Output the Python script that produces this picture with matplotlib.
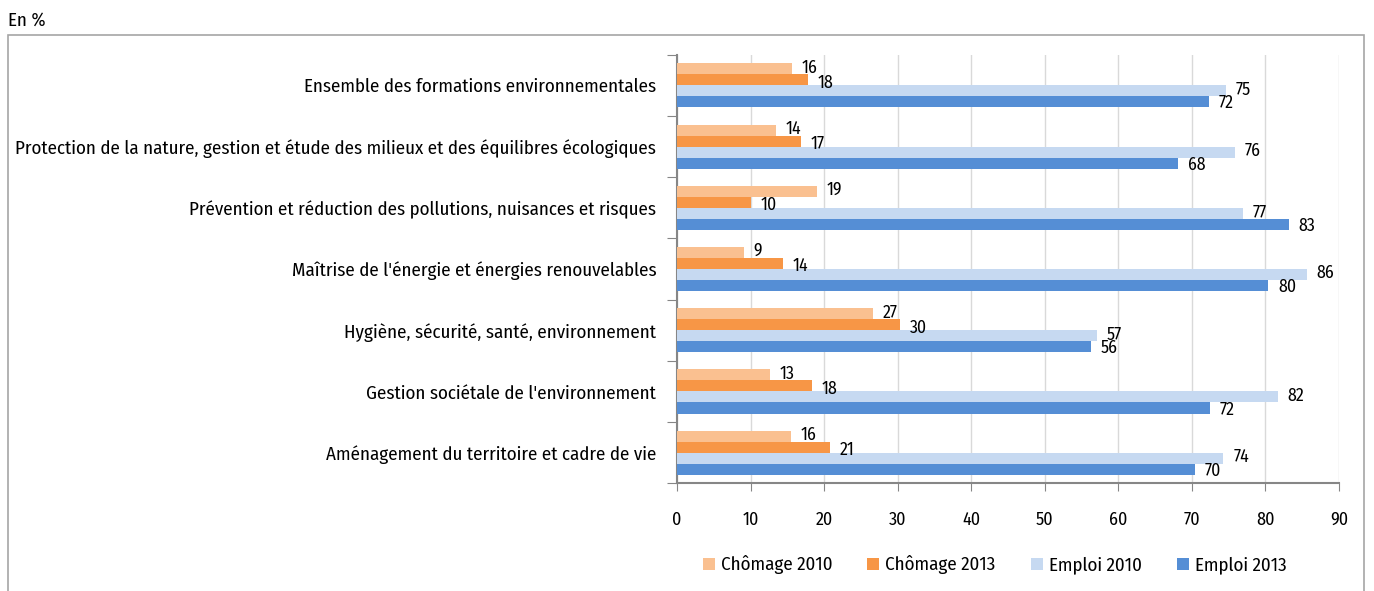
import matplotlib
matplotlib.use("Agg")
import matplotlib.pyplot as plt
import numpy as np
from matplotlib.patches import Rectangle
from matplotlib import font_manager

# police semi-étroite si disponible || semi-condensed font if available
names = {f.name for f in font_manager.fontManager.ttflist}
prefs = ['Fira Sans Condensed', 'Open Sans Condensed', 'Encode Sans Semi Condensed',
         'PT Sans Narrow', 'Asap Condensed', 'Roboto Condensed', 'Liberation Sans Narrow']
fam = next((p for p in prefs if p in names), 'DejaVu Sans')
plt.rcParams['font.family'] = [fam, 'DejaVu Sans']

# données || data
categories = [
    "Ensemble des formations environnementales",
    "Protection de la nature, gestion et étude des milieux et des équilibres écologiques",
    "Prévention et réduction des pollutions, nuisances et risques",
    "Maîtrise de l'énergie et énergies renouvelables",
    "Hygiène, sécurité, santé, environnement",
    "Gestion sociétale de l'environnement",
    "Aménagement du territoire et cadre de vie",
]
chomage_2010 = [15.6, 13.5, 19.0, 9.1, 26.6, 12.6, 15.5]
chomage_2013 = [17.8, 16.8, 10.1, 14.4, 30.3, 18.3, 20.8]
emploi_2010 = [74.6, 75.8, 76.9, 85.6, 57.1, 81.7, 74.3]
emploi_2013 = [72.3, 68.1, 83.2, 80.4, 56.3, 72.4, 70.4]

series = [
    ("Chômage 2010", chomage_2010, "#FAC090"),
    ("Chômage 2013", chomage_2013, "#F79646"),
    ("Emploi 2010", emploi_2010, "#C6D9F1"),
    ("Emploi 2013", emploi_2013, "#558ED5"),
]

fig = plt.figure(figsize=(13.74, 5.91), dpi=100)

# taille calibrée sur la largeur du libellé le plus long (~645 px)
probe = fig.text(0, 0, categories[1], fontsize=12)
w = probe.get_window_extent(renderer=fig.canvas.get_renderer()).width
probe.remove()
fs = 12 * 645 / w

ax = fig.add_axes([0.4927, 0.1822, 0.4818, 0.7252])

n = len(categories)
y = np.arange(n)
h = 0.18
offsets = [-1.5 * h, -0.5 * h, 0.5 * h, 1.5 * h]
label_dy = [1, -2, 1, -1]
for (lab, vals, col), off, dy in zip(series, offsets, label_dy):
    bars = ax.barh(y + off, vals, height=h, color=col, label=lab, zorder=3)
    for b, v in zip(bars, vals):
        ax.annotate(f"{round(v):d}", (v, b.get_y() + b.get_height() / 2),
                    xytext=(7, dy), textcoords="offset points", zorder=6,
                    va="center", ha="left", fontsize=fs * 0.93, color="#000000")

ax.set_xlim(0, 90)
ax.set_ylim(n - 0.5, -0.5)
ax.set_xticks(np.arange(0, 91, 10))
ax.set_yticks(np.arange(-0.5, n, 1), minor=False)
ax.set_yticklabels([])
ax.set_yticks(y, minor=True)
ax.set_yticklabels(categories, minor=True, fontsize=fs)
ax.tick_params(axis='y', which='minor', length=0, pad=15)
ax.tick_params(axis='y', which='major', length=7, color="#868686", direction='out')
ax.tick_params(axis='x', length=6, color="#868686", labelsize=fs * 0.95, pad=14)
ax.grid(axis='x', color="#D9D9D9", linewidth=1, zorder=0)
for s in ['top', 'right']:
    ax.spines[s].set_visible(False)
for s in ['left', 'bottom']:
    ax.spines[s].set_color("#868686")
    ax.spines[s].set_linewidth(1.5)

leg = fig.legend(loc='center', bbox_to_anchor=(0.7238, 0.044), ncol=4, frameon=False,
                 fontsize=fs, handlelength=0.63, handleheight=0.63,
                 columnspacing=1.85, handletextpad=0.32)

fig.text(8 / 1374, 1 - 20 / 591, "En %", fontsize=fs, va='center', ha='left')
fig.patches.append(Rectangle((8 / 1374, -0.1), (1364 - 8) / 1374, 1.1 - 35 / 591,
                             transform=fig.transFigure, fill=False,
                             edgecolor="#A6A6A6", linewidth=1.2))

fig.savefig("out.png", dpi=100)
